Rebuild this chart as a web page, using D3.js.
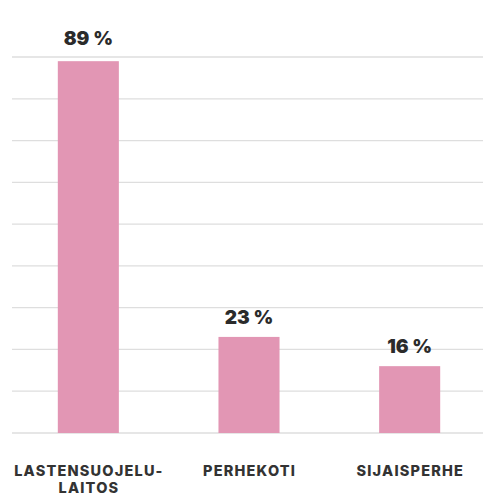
<!DOCTYPE html>
<html><head><meta charset="utf-8">
<script src="https://cdn.jsdelivr.net/npm/d3@7"></script>
<style>body{margin:0;background:#fff}</style>
</head><body>
<svg id="c" width="483" height="498"></svg>
<script>
const categories = [["LASTENSUOJELU-","LAITOS"],["PERHEKOTI"],["SIJAISPERHE"]];
const values = [89, 23, 16];
const valueLabels = ["89 %", "23 %", "16 %"];
const gridTicks = [0,10,20,30,40,50,60,70,80,90];

const svg = d3.select("#c");
const x = d3.scaleBand().domain(d3.range(values.length)).range([8, 490]).paddingInner(0.62).paddingOuter(0.31);
const y = d3.scaleLinear().domain([0, 90]).range([433, 57]);

svg.append("g").selectAll("line").data(gridTicks).join("line")
  .attr("x1", 12).attr("x2", 483)
  .attr("y1", d => y(d)).attr("y2", d => y(d))
  .attr("stroke", "#dedede").attr("stroke-width", 1.3);

svg.append("g").selectAll("rect").data(values).join("rect")
  .attr("x", (d,i) => x(i)).attr("width", x.bandwidth())
  .attr("y", d => y(d)).attr("height", d => y(0) - y(d))
  .attr("fill", "#e296b4");

svg.append("g").selectAll("text").data(values).join("text")
  .attr("x", (d,i) => x(i) + x.bandwidth()/2)
  .attr("y", (d,i) => y(d) - (i === 0 ? 16 : 13))
  .attr("text-anchor", "middle")
  .attr("font-family", "Inter, sans-serif").attr("font-weight", 900).attr("font-size", 19)
  .attr("fill", "#2b2b2b")
  .text((d,i) => valueLabels[i]);

const g = svg.append("g")
  .attr("font-family", "Inter, sans-serif").attr("font-weight", 800).attr("font-size", 14.5)
  .attr("letter-spacing", 1.2).attr("fill", "#333").attr("text-anchor", "middle");
categories.forEach((lines, i) => {
  lines.forEach((line, j) => {
    g.append("text")
      .attr("x", x(i) + x.bandwidth()/2 + 0.6)
      .attr("y", 476 + j * 17)
      .text(line);
  });
});
</script>
</body></html>
